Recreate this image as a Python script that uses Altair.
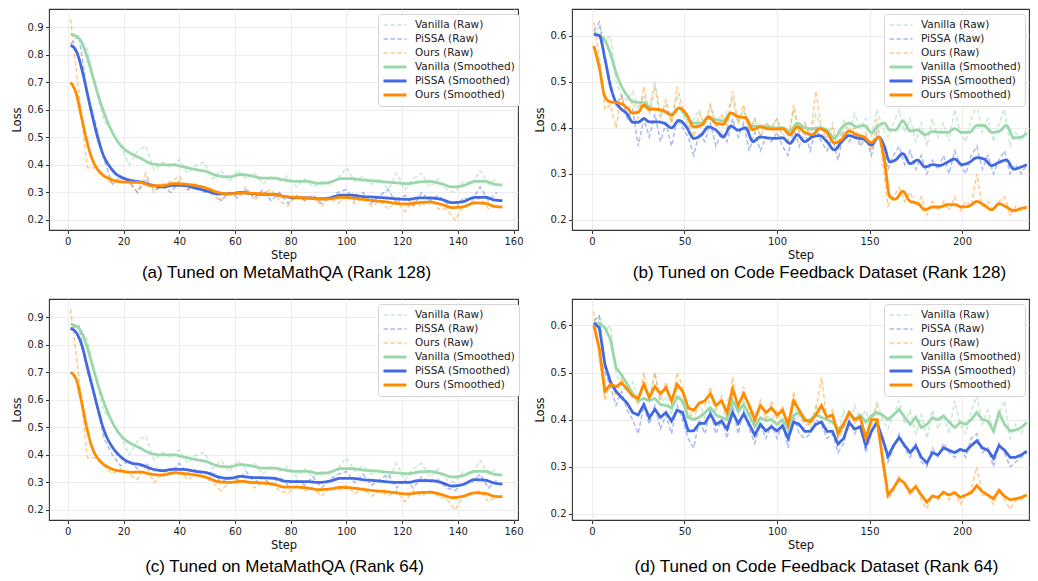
import altair as alt
import pandas as pd

SERIES = ["Vanilla (Raw)", "PiSSA (Raw)", "Ours (Raw)",
          "Vanilla (Smoothed)", "PiSSA (Smoothed)", "Ours (Smoothed)"]
COLORS = ["#9ad8ab", "#4169e1", "#ff8c00", "#9ad8ab", "#4169e1", "#ff8c00"]
DASHES = [[4.5, 2.5], [4.5, 2.5], [4.5, 2.5], [1, 0], [1, 0], [1, 0]]
WIDTHS = [1.5, 1.5, 1.5, 2.8, 2.8, 2.8]
OPACS = [0.55, 0.45, 0.45, 1, 1, 1]

# ---------------- MetaMathQA (panels a, c) ----------------
steps_math_raw = list(range(1, 155, 3))
vanilla_raw_math = [0.88, 0.86, 0.82, 0.68, 0.56, 0.52, 0.47, 0.40, 0.45, 0.47,
                    0.38, 0.41, 0.39, 0.42, 0.37, 0.40, 0.41, 0.35, 0.38, 0.34,
                    0.38, 0.35, 0.37, 0.33, 0.36, 0.34, 0.36, 0.32, 0.35, 0.32,
                    0.34, 0.33, 0.35, 0.39, 0.34, 0.36, 0.33, 0.35, 0.31, 0.37,
                    0.31, 0.35, 0.37, 0.32, 0.35, 0.31, 0.30, 0.34, 0.33, 0.38,
                    0.33, 0.35]
pissa_raw_a = [0.84, 0.87, 0.66, 0.55, 0.42, 0.33, 0.36, 0.34, 0.30, 0.35,
               0.31, 0.32, 0.30, 0.34, 0.31, 0.33, 0.30, 0.31, 0.27, 0.30,
               0.28, 0.31, 0.28, 0.31, 0.27, 0.30, 0.26, 0.29, 0.27, 0.29,
               0.26, 0.28, 0.30, 0.31, 0.27, 0.30, 0.26, 0.29, 0.31, 0.26,
               0.29, 0.25, 0.30, 0.27, 0.29, 0.26, 0.24, 0.28, 0.27, 0.32,
               0.27, 0.30]
ours_raw_a = [0.93, 0.66, 0.39, 0.39, 0.36, 0.33, 0.35, 0.34, 0.30, 0.37,
              0.30, 0.33, 0.34, 0.36, 0.31, 0.33, 0.31, 0.29, 0.27, 0.30,
              0.29, 0.32, 0.27, 0.30, 0.31, 0.27, 0.25, 0.29, 0.27, 0.29,
              0.25, 0.28, 0.26, 0.29, 0.26, 0.28, 0.25, 0.27, 0.24, 0.27,
              0.23, 0.27, 0.25, 0.28, 0.24, 0.24, 0.20, 0.25, 0.26, 0.28,
              0.24, 0.25]
pissa_raw_c = [0.86, 0.87, 0.70, 0.60, 0.46, 0.40, 0.36, 0.38, 0.35, 0.37,
               0.34, 0.35, 0.33, 0.37, 0.33, 0.35, 0.32, 0.34, 0.30, 0.32,
               0.31, 0.34, 0.30, 0.32, 0.29, 0.32, 0.29, 0.31, 0.29, 0.32,
               0.28, 0.31, 0.33, 0.34, 0.30, 0.33, 0.29, 0.31, 0.33, 0.28,
               0.31, 0.28, 0.32, 0.30, 0.31, 0.28, 0.27, 0.30, 0.30, 0.33,
               0.28, 0.31]
ours_raw_c = [0.93, 0.68, 0.39, 0.39, 0.36, 0.33, 0.35, 0.33, 0.31, 0.36,
              0.30, 0.34, 0.33, 0.35, 0.31, 0.33, 0.32, 0.30, 0.27, 0.30,
              0.30, 0.31, 0.28, 0.30, 0.30, 0.27, 0.26, 0.29, 0.27, 0.28,
              0.25, 0.28, 0.27, 0.29, 0.26, 0.28, 0.25, 0.27, 0.25, 0.27,
              0.23, 0.27, 0.25, 0.27, 0.25, 0.24, 0.20, 0.25, 0.26, 0.27,
              0.23, 0.25]

steps_math_sm = [1, 3, 5, 7, 9, 11, 13, 15, 17, 20, 23, 26, 30, 34, 38, 42, 46, 50,
                 54, 58, 62, 66, 70, 74, 78, 82, 86, 90, 94, 98, 102, 106, 110, 114,
                 118, 122, 126, 130, 134, 138, 142, 146, 150, 153, 156]
vanilla_sm_math = [0.875, 0.868, 0.845, 0.79, 0.72, 0.65, 0.59, 0.54, 0.50, 0.46,
                   0.44, 0.425, 0.405, 0.40, 0.40, 0.392, 0.383, 0.375, 0.36, 0.357,
                   0.365, 0.36, 0.352, 0.352, 0.345, 0.34, 0.34, 0.333, 0.337, 0.35,
                   0.35, 0.345, 0.342, 0.338, 0.335, 0.332, 0.338, 0.34, 0.332, 0.32,
                   0.325, 0.34, 0.34, 0.33, 0.327]
pissa_sm_a = [0.835, 0.815, 0.75, 0.66, 0.57, 0.49, 0.43, 0.395, 0.37, 0.352,
              0.343, 0.338, 0.327, 0.32, 0.326, 0.325, 0.315, 0.305, 0.295, 0.295,
              0.30, 0.296, 0.293, 0.293, 0.285, 0.28, 0.28, 0.277, 0.28, 0.29,
              0.29, 0.285, 0.283, 0.28, 0.277, 0.275, 0.28, 0.28, 0.275, 0.263,
              0.267, 0.282, 0.282, 0.273, 0.27]
ours_sm_a = [0.70, 0.66, 0.57, 0.48, 0.415, 0.38, 0.36, 0.35, 0.342, 0.338,
             0.337, 0.336, 0.325, 0.325, 0.332, 0.33, 0.325, 0.315, 0.30, 0.295,
             0.298, 0.297, 0.295, 0.293, 0.285, 0.282, 0.28, 0.276, 0.277, 0.282,
             0.28, 0.275, 0.27, 0.266, 0.26, 0.258, 0.263, 0.265, 0.257, 0.245,
             0.248, 0.262, 0.26, 0.25, 0.247]
pissa_sm_c = [0.86, 0.845, 0.80, 0.72, 0.64, 0.56, 0.49, 0.445, 0.415, 0.385,
              0.37, 0.365, 0.35, 0.343, 0.348, 0.347, 0.34, 0.335, 0.32, 0.315,
              0.322, 0.318, 0.317, 0.315, 0.305, 0.303, 0.303, 0.30, 0.305, 0.315,
              0.315, 0.31, 0.307, 0.303, 0.30, 0.30, 0.307, 0.307, 0.30, 0.287,
              0.293, 0.31, 0.308, 0.298, 0.294]
ours_sm_c = [0.70, 0.675, 0.59, 0.49, 0.42, 0.385, 0.365, 0.353, 0.345, 0.34,
             0.337, 0.338, 0.33, 0.327, 0.335, 0.332, 0.327, 0.318, 0.303, 0.30,
             0.304, 0.30, 0.298, 0.293, 0.283, 0.283, 0.28, 0.274, 0.276, 0.282,
             0.28, 0.275, 0.27, 0.267, 0.262, 0.258, 0.263, 0.264, 0.257, 0.245,
             0.25, 0.262, 0.26, 0.25, 0.248]

# ---------------- Code Feedback (panels b, d) ----------------
steps_code_raw = list(range(1, 236, 3))
vanilla_raw_code = [0.60, 0.62, 0.59, 0.60, 0.50, 0.47, 0.46, 0.48, 0.44, 0.47,
                    0.44, 0.50, 0.43, 0.45, 0.41, 0.47, 0.43, 0.40, 0.42, 0.44,
                    0.40, 0.45, 0.41, 0.39, 0.44, 0.46, 0.41, 0.44, 0.39, 0.42,
                    0.38, 0.41, 0.40, 0.42, 0.39, 0.37, 0.44, 0.39, 0.41, 0.38,
                    0.43, 0.40, 0.38, 0.41, 0.36, 0.42, 0.39, 0.43, 0.40, 0.42,
                    0.38, 0.44, 0.40, 0.38, 0.41, 0.44, 0.39, 0.42, 0.37, 0.41,
                    0.36, 0.42, 0.38, 0.41, 0.37, 0.44, 0.39, 0.37, 0.42, 0.45,
                    0.39, 0.42, 0.37, 0.41, 0.44, 0.36, 0.39, 0.37, 0.40]
pissa_raw_b = [0.61, 0.63, 0.55, 0.50, 0.45, 0.47, 0.42, 0.44, 0.36, 0.42,
               0.38, 0.43, 0.37, 0.41, 0.36, 0.42, 0.40, 0.38, 0.34, 0.39,
               0.37, 0.41, 0.36, 0.39, 0.37, 0.42, 0.38, 0.41, 0.35, 0.39,
               0.35, 0.38, 0.37, 0.39, 0.36, 0.34, 0.40, 0.36, 0.39, 0.35,
               0.40, 0.37, 0.35, 0.38, 0.33, 0.39, 0.37, 0.39, 0.36, 0.38,
               0.34, 0.39, 0.36, 0.31, 0.34, 0.36, 0.32, 0.35, 0.31, 0.34,
               0.30, 0.33, 0.31, 0.34, 0.30, 0.35, 0.32, 0.30, 0.34, 0.36,
               0.31, 0.34, 0.30, 0.33, 0.35, 0.30, 0.32, 0.30, 0.32]
ours_raw_b = [0.63, 0.55, 0.44, 0.45, 0.40, 0.47, 0.43, 0.46, 0.42, 0.49,
              0.43, 0.49, 0.42, 0.46, 0.41, 0.49, 0.44, 0.41, 0.38, 0.43,
              0.41, 0.45, 0.40, 0.43, 0.40, 0.48, 0.41, 0.45, 0.39, 0.42,
              0.38, 0.41, 0.40, 0.42, 0.38, 0.37, 0.45, 0.39, 0.41, 0.38,
              0.48, 0.40, 0.37, 0.40, 0.35, 0.41, 0.39, 0.40, 0.37, 0.39,
              0.35, 0.42, 0.33, 0.23, 0.25, 0.27, 0.24, 0.26, 0.23, 0.25,
              0.21, 0.24, 0.22, 0.24, 0.22, 0.25, 0.22, 0.24, 0.23, 0.30,
              0.23, 0.24, 0.22, 0.24, 0.25, 0.21, 0.23, 0.22, 0.23]
pissa_raw_d = [0.61, 0.62, 0.50, 0.47, 0.43, 0.46, 0.42, 0.40, 0.37, 0.43,
               0.39, 0.43, 0.38, 0.41, 0.37, 0.43, 0.40, 0.36, 0.34, 0.40,
               0.37, 0.42, 0.37, 0.40, 0.36, 0.43, 0.37, 0.42, 0.38, 0.35,
               0.39, 0.36, 0.39, 0.36, 0.39, 0.34, 0.41, 0.37, 0.36, 0.37,
               0.40, 0.39, 0.36, 0.37, 0.33, 0.35, 0.40, 0.37, 0.39, 0.33,
               0.37, 0.40, 0.36, 0.31, 0.34, 0.37, 0.34, 0.32, 0.35, 0.31,
               0.30, 0.34, 0.32, 0.35, 0.33, 0.32, 0.34, 0.32, 0.36, 0.37,
               0.33, 0.34, 0.30, 0.35, 0.33, 0.30, 0.31, 0.32, 0.33]
ours_raw_d = [0.63, 0.53, 0.44, 0.48, 0.45, 0.49, 0.46, 0.46, 0.43, 0.50,
              0.44, 0.50, 0.44, 0.48, 0.43, 0.50, 0.47, 0.42, 0.40, 0.44,
              0.43, 0.47, 0.42, 0.45, 0.40, 0.49, 0.42, 0.47, 0.42, 0.39,
              0.44, 0.40, 0.44, 0.40, 0.43, 0.38, 0.46, 0.41, 0.39, 0.39,
              0.42, 0.49, 0.40, 0.42, 0.36, 0.38, 0.42, 0.39, 0.41, 0.35,
              0.40, 0.43, 0.30, 0.23, 0.25, 0.28, 0.26, 0.24, 0.26, 0.23,
              0.21, 0.24, 0.23, 0.25, 0.23, 0.25, 0.22, 0.24, 0.25, 0.30,
              0.24, 0.24, 0.22, 0.25, 0.23, 0.21, 0.23, 0.23, 0.24]

steps_code_sm = [1, 4, 7, 10, 13, 16, 19, 22, 25, 28, 31, 35, 39, 43, 47, 51, 55, 59,
                 63, 67, 71, 75, 79, 83, 87, 91, 95, 99, 103, 107, 111, 115, 119, 123,
                 127, 131, 135, 139, 143, 147, 151, 155, 158, 161, 164, 168, 172, 176,
                 180, 184, 188, 192, 196, 200, 204, 208, 212, 216, 220, 224, 228, 232, 235]
vanilla_sm_b = [0.605, 0.60, 0.59, 0.56, 0.52, 0.49, 0.47, 0.457, 0.455, 0.455,
                0.445, 0.44, 0.435, 0.43, 0.442, 0.425, 0.41, 0.41, 0.42, 0.418,
                0.415, 0.432, 0.425, 0.42, 0.403, 0.404, 0.402, 0.40, 0.40, 0.392,
                0.41, 0.40, 0.398, 0.40, 0.395, 0.378, 0.40, 0.41, 0.402, 0.405,
                0.39, 0.405, 0.41, 0.395, 0.395, 0.415, 0.393, 0.395, 0.385, 0.392,
                0.39, 0.39, 0.398, 0.39, 0.39, 0.405, 0.405, 0.39, 0.392, 0.405,
                0.378, 0.38, 0.388]
pissa_sm_b = [0.603, 0.60, 0.55, 0.49, 0.455, 0.44, 0.43, 0.412, 0.412, 0.42,
              0.413, 0.413, 0.41, 0.40, 0.416, 0.402, 0.377, 0.384, 0.402, 0.395,
              0.38, 0.404, 0.395, 0.40, 0.37, 0.38, 0.378, 0.377, 0.378, 0.366,
              0.385, 0.37, 0.38, 0.383, 0.37, 0.352, 0.37, 0.383, 0.378, 0.375,
              0.363, 0.38, 0.36, 0.326, 0.33, 0.344, 0.322, 0.33, 0.315, 0.32,
              0.318, 0.325, 0.332, 0.32, 0.325, 0.335, 0.332, 0.318, 0.325, 0.33,
              0.31, 0.315, 0.32]
ours_sm_b = [0.578, 0.53, 0.467, 0.456, 0.455, 0.452, 0.443, 0.432, 0.434, 0.449,
             0.44, 0.44, 0.437, 0.427, 0.443, 0.43, 0.402, 0.405, 0.424, 0.41,
             0.408, 0.432, 0.424, 0.422, 0.396, 0.402, 0.398, 0.397, 0.398, 0.385,
             0.402, 0.39, 0.385, 0.398, 0.39, 0.367, 0.375, 0.393, 0.385, 0.38,
             0.368, 0.38, 0.33, 0.25, 0.245, 0.262, 0.24, 0.236, 0.222, 0.228,
             0.228, 0.233, 0.233, 0.228, 0.23, 0.24, 0.232, 0.222, 0.235, 0.228,
             0.22, 0.225, 0.227]

steps_code_sm_d = list(range(1, 236, 3))
vanilla_sm_d = [0.605, 0.605, 0.595, 0.57, 0.51, 0.495, 0.475, 0.455, 0.44, 0.445,
                0.44, 0.445, 0.432, 0.43, 0.425, 0.448, 0.44, 0.405, 0.40, 0.405,
                0.415, 0.425, 0.41, 0.405, 0.40, 0.44, 0.418, 0.432, 0.41, 0.385,
                0.404, 0.398, 0.40, 0.39, 0.40, 0.38, 0.41, 0.415, 0.397, 0.40,
                0.41, 0.405, 0.40, 0.395, 0.38, 0.39, 0.415, 0.40, 0.41, 0.395,
                0.408, 0.415, 0.41, 0.40, 0.41, 0.422, 0.405, 0.39, 0.405, 0.383,
                0.39, 0.404, 0.40, 0.408, 0.395, 0.383, 0.394, 0.39, 0.40, 0.415,
                0.40, 0.397, 0.376, 0.415, 0.39, 0.376, 0.378, 0.383, 0.394]
pissa_sm_d = [0.605, 0.595, 0.517, 0.48, 0.46, 0.447, 0.435, 0.415, 0.41, 0.432,
              0.404, 0.422, 0.405, 0.415, 0.397, 0.42, 0.415, 0.376, 0.376, 0.392,
              0.392, 0.412, 0.39, 0.397, 0.38, 0.415, 0.392, 0.412, 0.39, 0.367,
              0.39, 0.376, 0.385, 0.376, 0.387, 0.36, 0.395, 0.39, 0.375, 0.375,
              0.39, 0.395, 0.375, 0.375, 0.348, 0.36, 0.394, 0.38, 0.385, 0.345,
              0.375, 0.394, 0.36, 0.322, 0.345, 0.362, 0.345, 0.33, 0.344, 0.32,
              0.308, 0.33, 0.325, 0.34, 0.335, 0.33, 0.337, 0.333, 0.345, 0.355,
              0.34, 0.335, 0.318, 0.345, 0.335, 0.32, 0.32, 0.325, 0.333]
ours_sm_d = [0.60, 0.55, 0.46, 0.475, 0.47, 0.478, 0.465, 0.45, 0.445, 0.475,
             0.447, 0.47, 0.455, 0.468, 0.44, 0.475, 0.46, 0.425, 0.42, 0.435,
             0.44, 0.455, 0.43, 0.44, 0.415, 0.465, 0.43, 0.455, 0.43, 0.40,
             0.43, 0.415, 0.425, 0.41, 0.42, 0.39, 0.44, 0.42, 0.40, 0.395,
             0.41, 0.43, 0.405, 0.41, 0.37, 0.39, 0.415, 0.40, 0.405, 0.36,
             0.40, 0.40, 0.32, 0.24, 0.255, 0.274, 0.265, 0.246, 0.258, 0.24,
             0.225, 0.238, 0.235, 0.246, 0.24, 0.245, 0.235, 0.24, 0.245, 0.26,
             0.247, 0.24, 0.232, 0.25, 0.237, 0.23, 0.232, 0.235, 0.24]


def long_df(steps, pairs):
    rows = []
    for name, vals in pairs:
        for s, v in zip(steps, vals):
            rows.append({"step": s, "loss": v, "series": name})
    return pd.DataFrame(rows)


def legend(lx):
    return alt.Legend(orient="none", legendX=lx, legendY=5, title=None,
                      symbolType="stroke", symbolSize=529, clipHeight=14,
                      rowPadding=0, labelOffset=7, padding=4,
                      labelFont="DejaVu Sans", labelFontSize=10.5, labelColor="#222",
                      fillColor="white", strokeColor="#d4d4d4", cornerRadius=3)


def panel(raw_df, sm_df, sm_interp, xdom, xticks, ydom, yticks, caption, dx, lx, w, h, off):
    lg = legend(lx)
    enc = dict(
        x=alt.X("step:Q", scale=alt.Scale(domain=xdom, nice=False, zero=False),
                axis=alt.Axis(values=xticks, title="Step", format="d")),
        y=alt.Y("loss:Q", scale=alt.Scale(domain=ydom, nice=False, zero=False),
                axis=alt.Axis(values=yticks, title="Loss", format=".1f")),
        color=alt.Color("series:O", sort=SERIES, scale=alt.Scale(domain=SERIES, range=COLORS), legend=lg),
        strokeDash=alt.StrokeDash("series:O", sort=SERIES, scale=alt.Scale(domain=SERIES, range=DASHES), legend=lg),
        strokeWidth=alt.StrokeWidth("series:O", sort=SERIES, scale=alt.Scale(type="ordinal", domain=SERIES, range=WIDTHS), legend=lg),
        opacity=alt.Opacity("series:O", sort=SERIES, scale=alt.Scale(type="ordinal", domain=SERIES, range=OPACS), legend=lg),
    )
    raw = alt.Chart(raw_df).mark_line(interpolate="linear", clip=True).encode(**enc)
    sm = alt.Chart(sm_df).mark_line(interpolate=sm_interp, clip=True).encode(**enc)
    return alt.layer(raw, sm).properties(
        width=w, height=h,
        title=alt.TitleParams(caption, orient="bottom", anchor="middle", frame="group",
                              font="Liberation Sans", fontSize=17, fontWeight="normal",
                              color="black", offset=off, dx=dx))


H = 221
math_x = [-6.75, 161.6]
code_x = [-10.8, 236.2]
math_y = [0.1635, 0.967]
math_yt = [0.2, 0.3, 0.4, 0.5, 0.6, 0.7, 0.8, 0.9]
code_yt = [0.2, 0.3, 0.4, 0.5, 0.6]

pa = panel(long_df(steps_math_raw, [("Vanilla (Raw)", vanilla_raw_math), ("PiSSA (Raw)", pissa_raw_a), ("Ours (Raw)", ours_raw_a)]),
           long_df(steps_math_sm, [("Vanilla (Smoothed)", vanilla_sm_math), ("PiSSA (Smoothed)", pissa_sm_a), ("Ours (Smoothed)", ours_sm_a)]),
           "monotone", math_x, list(range(0, 161, 20)), math_y, math_yt,
           "(a) Tuned on MetaMathQA (Rank 128)", 3, 329, 469, H, 4)
pb = panel(long_df(steps_code_raw, [("Vanilla (Raw)", vanilla_raw_code), ("PiSSA (Raw)", pissa_raw_b), ("Ours (Raw)", ours_raw_b)]),
           long_df(steps_code_sm, [("Vanilla (Smoothed)", vanilla_sm_b), ("PiSSA (Smoothed)", pissa_sm_b), ("Ours (Smoothed)", ours_sm_b)]),
           "monotone", code_x, [0, 50, 100, 150, 200], [0.178, 0.658], code_yt,
           "(b) Tuned on Code Feedback Dataset (Rank 128)", 19, 312, 457, H, 4)
pc = panel(long_df(steps_math_raw, [("Vanilla (Raw)", vanilla_raw_math), ("PiSSA (Raw)", pissa_raw_c), ("Ours (Raw)", ours_raw_c)]),
           long_df(steps_math_sm, [("Vanilla (Smoothed)", vanilla_sm_math), ("PiSSA (Smoothed)", pissa_sm_c), ("Ours (Smoothed)", ours_sm_c)]),
           "monotone", math_x, list(range(0, 161, 20)), math_y, math_yt,
           "(c) Tuned on MetaMathQA (Rank 64)", 1, 329, 469, H, 8)
pd_ = panel(long_df(steps_code_raw, [("Vanilla (Raw)", vanilla_raw_code), ("PiSSA (Raw)", pissa_raw_d), ("Ours (Raw)", ours_raw_d)]),
            long_df(steps_code_sm_d, [("Vanilla (Smoothed)", vanilla_sm_d), ("PiSSA (Smoothed)", pissa_sm_d), ("Ours (Smoothed)", ours_sm_d)]),
            "linear", code_x, [0, 50, 100, 150, 200], [0.187, 0.656], code_yt,
            "(d) Tuned on Code Feedback Dataset (Rank 64)", 16, 312, 457, H, 8)

IND = dict(color="independent", strokeDash="independent",
           strokeWidth="independent", opacity="independent")

row1 = alt.hconcat(pa, pb, spacing=9).resolve_scale(**IND).resolve_legend(**IND)
row2 = alt.hconcat(pc, pd_, spacing=9).resolve_scale(**IND).resolve_legend(**IND)

chart = alt.vconcat(row1, row2, spacing=16).resolve_scale(**IND).resolve_legend(**IND).properties(
    padding={"left": 2, "top": 0, "right": 0, "bottom": 0}
).configure_view(
    stroke="#333333", strokeWidth=1.1
).configure_axis(
    labelFont="DejaVu Sans", labelFontSize=10, labelColor="#222",
    titleFont="DejaVu Sans", titleFontSize=11.5, titleFontWeight="normal", titleColor="#111",
    tickColor="#333", tickSize=3.5, tickWidth=1, domain=False,
    gridColor="#e9e9e9", gridWidth=0.8, labelPadding=2.5
).configure_axisX(titlePadding=3).configure_axisY(titlePadding=5)

chart.save("out.html", embed_options={"renderer": "svg", "actions": False})
